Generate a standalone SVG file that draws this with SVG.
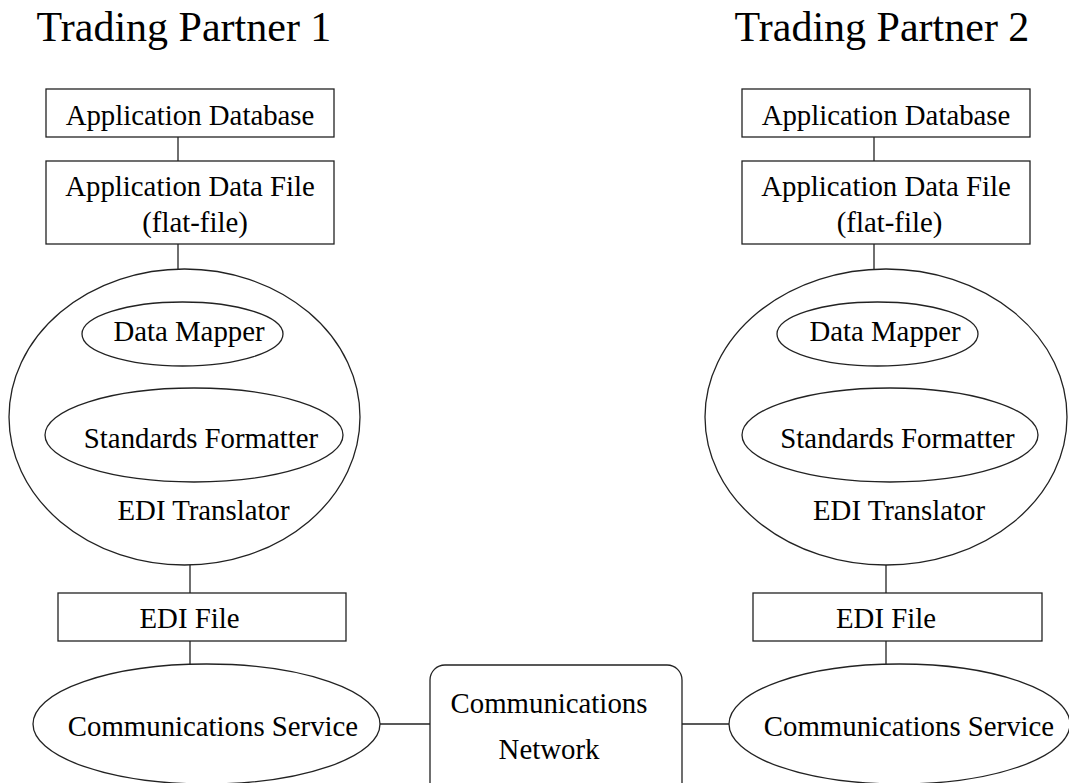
<svg xmlns="http://www.w3.org/2000/svg" width="1069" height="783" viewBox="0 0 1069 783">
<style>
.s{fill:#fff;stroke:#222;stroke-width:1.3}
.c{stroke:#222;stroke-width:1.3;fill:none}
text{font-family:"Liberation Serif","Times New Roman",serif;fill:#000;text-anchor:middle;font-size:28.8px}
.t{font-size:42px}
</style>
<rect width="1069" height="783" fill="#fff"/>
<g id="connectors">
<line class="c" x1="178" y1="137" x2="178" y2="161"/>
<line class="c" x1="178" y1="244" x2="178" y2="269"/>
<line class="c" x1="178" y1="366" x2="178" y2="388"/>
<line class="c" x1="190" y1="565" x2="190" y2="593"/>
<line class="c" x1="190" y1="641" x2="190" y2="664"/>
<line class="c" x1="874" y1="137" x2="874" y2="161"/>
<line class="c" x1="874" y1="244" x2="874" y2="269"/>
<line class="c" x1="874" y1="366" x2="874" y2="388"/>
<line class="c" x1="886" y1="565" x2="886" y2="593"/>
<line class="c" x1="886" y1="641" x2="886" y2="664"/>
<line class="c" x1="380" y1="724" x2="430" y2="724"/>
<line class="c" x1="682" y1="724" x2="729" y2="724"/>
</g>
<g id="title1"><text class="t" x="184" y="41">Trading Partner 1</text></g>
<g id="title2"><text class="t" x="882" y="41">Trading Partner 2</text></g>
<g id="appdb1"><rect class="s" x="46" y="89" width="288" height="48"/><text x="190" y="125">Application Database</text></g>
<g id="appfile1"><rect class="s" x="46" y="161" width="288" height="83"/><text x="190" y="196">Application Data File</text><text x="195" y="231.5">(flat-file)</text></g>
<g id="translator1"><ellipse class="s" cx="184.5" cy="417" rx="175.5" ry="148"/><text x="203.5" y="520">EDI Translator</text></g>
<g id="mapper1"><ellipse class="s" cx="182.5" cy="334" rx="100.5" ry="32"/><text x="189" y="341">Data Mapper</text></g>
<g id="formatter1"><ellipse class="s" cx="194" cy="435" rx="149" ry="47"/><text x="201" y="448">Standards Formatter</text></g>
<g id="edifile1"><rect class="s" x="58" y="593" width="288" height="48"/><text x="189.5" y="628">EDI File</text></g>
<g id="comm1"><ellipse class="s" cx="206.5" cy="724" rx="173.5" ry="60"/><text x="213" y="736">Communications Service</text></g>
<g id="network"><rect class="s" x="430" y="665" width="252" height="140" rx="15"/><text x="549" y="713">Communications</text><text x="549" y="759">Network</text></g>
<g id="appdb2"><rect class="s" x="742" y="89" width="288" height="48"/><text x="886" y="125">Application Database</text></g>
<g id="appfile2"><rect class="s" x="742" y="161" width="288" height="83"/><text x="886" y="196">Application Data File</text><text x="889.5" y="231.5">(flat-file)</text></g>
<g id="translator2"><ellipse class="s" cx="886" cy="417" rx="181" ry="148"/><text x="899" y="520">EDI Translator</text></g>
<g id="mapper2"><ellipse class="s" cx="877.5" cy="334" rx="100.5" ry="32"/><text x="885" y="341">Data Mapper</text></g>
<g id="formatter2"><ellipse class="s" cx="890" cy="435" rx="148" ry="47"/><text x="897.5" y="448">Standards Formatter</text></g>
<g id="edifile2"><rect class="s" x="753" y="593" width="289" height="48"/><text x="886" y="628">EDI File</text></g>
<g id="comm2"><ellipse class="s" cx="899.5" cy="724" rx="170.5" ry="60"/><text x="909" y="736">Communications Service</text></g>
</svg>
